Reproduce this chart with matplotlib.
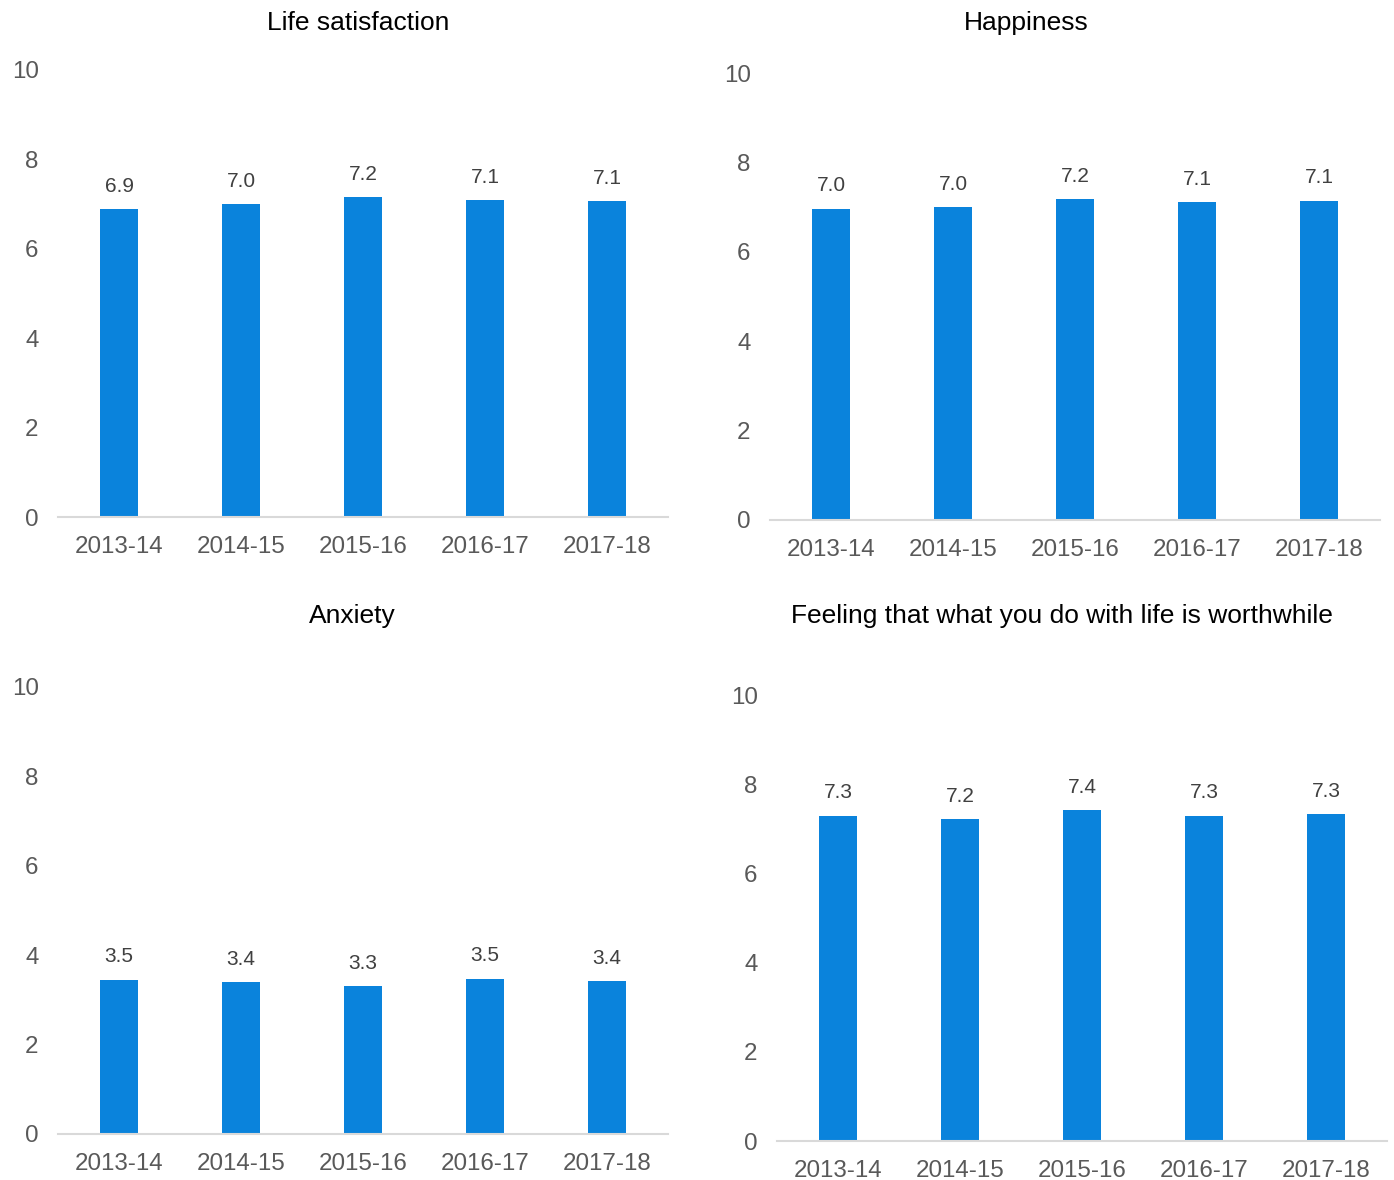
import matplotlib
matplotlib.use("Agg")
import matplotlib.pyplot as plt

plt.rcParams['font.family'] = ['Liberation Sans', 'DejaVu Sans']

years = ["2013-14", "2014-15", "2015-16", "2016-17", "2017-18"]

life_satisfaction = [6.89, 7.00, 7.16, 7.09, 7.07]
happiness = [6.96, 7.00, 7.18, 7.11, 7.14]
anxiety = [3.45, 3.40, 3.31, 3.47, 3.42]
worthwhile = [7.29, 7.22, 7.42, 7.29, 7.33]

titles = ["Life satisfaction", "Happiness", "Anxiety",
          "Feeling that what you do with life is worthwhile"]
y_ticks = [0, 2, 4, 6, 8, 10]

W, H = 1394, 1180
fig = plt.figure(figsize=(W / 100, H / 100), dpi=100)

BAR = "#0A83DC"
GRID = "#D9D9D9"
TICK = "#595959"
LABEL = "#404040"

# (left px, zero-line px, ten-line px, title centre x px, title centre y px)
panels = [
    (life_satisfaction, 58, 517, 70, 358, 23),
    (happiness, 770, 520, 73, 1026, 23),
    (anxiety, 58, 1134, 687, 352, 616),
    (worthwhile, 777, 1141, 695, 1062, 616),
]
panel_width = 610

for (values, left, y0, y10, tx, ty), title in zip(panels, titles):
    ax = fig.add_axes([left / W, 1 - y0 / H, panel_width / W, (y0 - y10) / H])
    x = range(len(years))
    ax.bar(x, values, width=0.31, color=BAR, zorder=2)
    ax.set_xlim(-0.5, len(years) - 0.5)
    ax.set_ylim(0, 10)
    ax.set_yticks(y_ticks)
    ax.set_yticklabels([str(t) for t in y_ticks])
    ax.set_xticks(list(x))
    ax.set_xticklabels(years)
    ax.tick_params(axis='y', length=0, pad=14, labelsize=17.4, labelcolor=TICK)
    ax.tick_params(axis='x', length=0, pad=13.5, labelsize=17.4, labelcolor=TICK)
    for s in ("top", "right", "left"):
        ax.spines[s].set_visible(False)
    ax.spines["bottom"].set_color(GRID)
    ax.spines["bottom"].set_linewidth(1.5)
    ax.spines["bottom"].set_zorder(3)
    for xi, v in zip(x, values):
        ax.annotate(f"{v:.1f}", (xi, v), xytext=(0, 16.5), textcoords="offset points",
                    ha="center", va="center", fontsize=15, color=LABEL)
    fig.text(tx / W, 1 - ty / H, title, ha="center", va="center",
             fontsize=19, color="#000000")

fig.savefig("out.png", dpi=100, facecolor="white")
